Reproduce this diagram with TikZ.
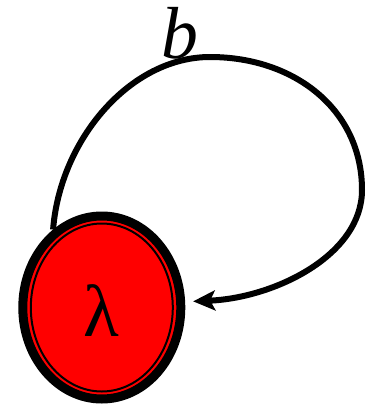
\documentclass[tikz,border=0pt]{standalone}
\usepackage{fontspec}
\setmainfont{Liberation Serif}
\usetikzlibrary{arrows.meta,shapes.geometric}

\begin{document}
\begin{tikzpicture}[x=1bp,y=-1bp,
  state/.style={ellipse,inner sep=0pt,fill=red,draw=black,line width=9bp},
  ring/.style={ellipse,inner sep=0pt,draw=black,line width=2bp},
  every node/.style={font=\fontsize{74}{74}\selectfont}]
\useasboundingbox (0,0) rectangle (368,406);
\node[state,minimum width=158bp,minimum height=183bp] (q) at (101.8,307.5) {};
\node[ring,minimum width=142bp,minimum height=168bp] (qIn) at (q.center) {};
\node (lam) at (101.5,311) {λ};
\coordinate (bTop) at (210,57);
\coordinate (bRight) at (362,190);
\draw[line width=6bp,-{Stealth[length=22bp,width=20bp,inset=5bp]},shorten >=8bp]
  (q.122) .. controls (60,140) and (130,57) .. (bTop)
  .. controls (295,57) and (362,110) .. (bRight)
  .. controls (362,255) and (275,298) .. (q.4);
\node[inner sep=0pt] (lbl) at (180,33) {\itshape b};
\end{tikzpicture}
\end{document}
